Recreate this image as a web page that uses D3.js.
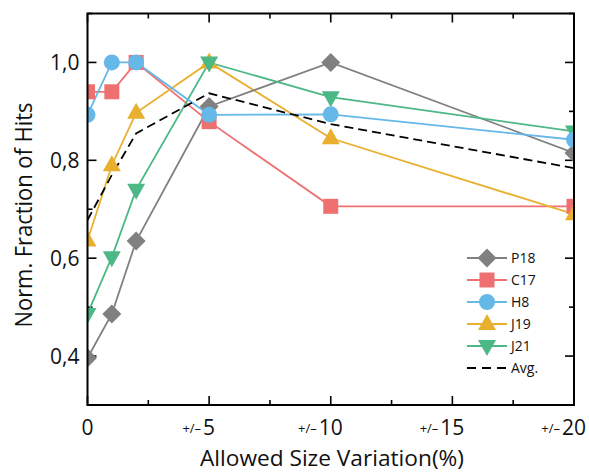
<!DOCTYPE html>
<html>
<head>
<meta charset="utf-8">
<script src="https://cdn.jsdelivr.net/npm/d3@7"></script>
<style>
  body { margin: 0; background: #fff; }
  text { font-family: "Open Sans", "Noto Sans", sans-serif; fill: #111; }
</style>
</head>
<body>
<svg id="chart" width="589" height="473"></svg>
<script>
// x positions (allowed size variation, %)
const xValues = [0, 1, 2, 5, 10, 20];

const seriesNames = ["P18", "C17", "H8", "J19", "J21"];
const p18 = [0.396, 0.486, 0.635, 0.91, 1.0, 0.815];
const c17 = [0.94, 0.94, 1.0, 0.879, 0.706, 0.706];
const h8 = [0.893, 1.0, 1.0, 0.893, 0.894, 0.842];
const j19 = [0.636, 0.79, 0.897, 1.0, 0.845, 0.69];
const j21 = [0.486, 0.602, 0.74, 1.0, 0.929, 0.859];
const avg = [0.678, 0.77, 0.855, 0.937, 0.874, 0.784];

const xTickValues = [0, 5, 10, 15, 20];
const xTickLabels = ["0", "5", "10", "15", "20"];
const yTickValues = [0.4, 0.6, 0.8, 1.0];

const colors = ["#808080", "#ef7070", "#66b8e8", "#e8b02e", "#4cb886"];
const symbols = ["diamond", "square", "circle", "triUp", "triDown"];

const svg = d3.select("#chart");
const margin = { left: 87.5, right: 15, top: 13.5, bottom: 68 };
const W = 589, H = 473;

const x = d3.scaleLinear().domain([0, 20]).range([margin.left, W - margin.right]);
const y = d3.scaleLinear().domain([0.3, 1.1]).range([H - margin.bottom, margin.top]);

// ticks: major + minor, inward on all four sides
function drawTicks() {
  let xMinor = d3.range(0, 20.01, 2.5);
  let yMinor = d3.range(0.3, 1.101, 0.1);
  let g = svg.append("g").attr("stroke", "#000").attr("stroke-width", 1.6);
  xMinor.forEach(function(v) {
    let len = (Math.abs(v % 5) < 0.01) ? 9 : 5;
    g.append("line").attr("x1", x(v)).attr("x2", x(v))
      .attr("y1", y.range()[0]).attr("y2", y.range()[0] - len);
    g.append("line").attr("x1", x(v)).attr("x2", x(v))
      .attr("y1", y.range()[1]).attr("y2", y.range()[1] + len);
  });
  yMinor.forEach(function(v) {
    let r = Math.round(v * 10);
    let len = (r % 2 === 0) ? 9 : 5;
    g.append("line").attr("y1", y(v)).attr("y2", y(v))
      .attr("x1", x.range()[0]).attr("x2", x.range()[0] + len);
    g.append("line").attr("y1", y(v)).attr("y2", y(v))
      .attr("x1", x.range()[1]).attr("x2", x.range()[1] - len);
  });
}
drawTicks();

// tick labels
yTickValues.forEach(function(v) {
  svg.append("text")
    .attr("x", margin.left - 8)
    .attr("y", y(v) + 8)
    .attr("text-anchor", "end")
    .style("font-size", "21px")
    .text(v.toFixed(1).replace(".", ","));
});

xTickValues.forEach(function(v, i) {
  let ty = y.range()[0] + 30;
  let num = svg.append("text")
    .attr("x", x(v))
    .attr("y", ty)
    .attr("text-anchor", "middle")
    .style("font-size", "21px")
    .text(xTickLabels[i]);
  if (v !== 0) {
    let w = num.node().getBBox().width;
    svg.append("text")
      .attr("x", x(v) - w / 2 - 2)
      .attr("y", ty - 2)
      .attr("text-anchor", "end")
      .style("font-size", "13px")
      .text("+/\u2013");
  }
});

// axis titles
svg.append("text")
  .attr("x", 332)
  .attr("y", 466)
  .attr("text-anchor", "middle")
  .attr("textLength", 264)
  .attr("lengthAdjust", "spacingAndGlyphs")
  .style("font-size", "22px")
  .text("Allowed Size Variation(%)");

svg.append("text")
  .attr("transform", "translate(32,215) rotate(-90)")
  .attr("text-anchor", "middle")
  .attr("textLength", 225)
  .attr("lengthAdjust", "spacingAndGlyphs")
  .style("font-size", "23px")
  .text("Norm. Fraction of Hits");

// marker drawing
function marker(g, kind, cx, cy, color) {
  if (kind === "circle") {
    g.append("circle").attr("cx", cx).attr("cy", cy).attr("r", 8).attr("fill", color);
  } else if (kind === "square") {
    g.append("rect").attr("x", cx - 7.5).attr("y", cy - 7.5).attr("width", 15).attr("height", 15).attr("fill", color);
  } else if (kind === "diamond") {
    g.append("path").attr("d", "M" + cx + "," + (cy - 9.5) + "L" + (cx + 9.5) + "," + cy + "L" + cx + "," + (cy + 9.5) + "L" + (cx - 9.5) + "," + cy + "Z").attr("fill", color);
  } else if (kind === "triUp") {
    g.append("path").attr("d", "M" + cx + "," + (cy - 10) + "L" + (cx + 9) + "," + (cy + 6) + "L" + (cx - 9) + "," + (cy + 6) + "Z").attr("fill", color);
  } else if (kind === "triDown") {
    g.append("path").attr("d", "M" + cx + "," + (cy + 10) + "L" + (cx + 9) + "," + (cy - 6) + "L" + (cx - 9) + "," + (cy - 6) + "Z").attr("fill", color);
  }
}

const allSeries = [p18, c17, h8, j19, j21];
const line = d3.line().x(function(d, i) { return x(xValues[i]); }).y(function(d) { return y(d); });

svg.append("clipPath").attr("id", "clip").append("rect")
  .attr("x", x.range()[0]).attr("y", y.range()[1])
  .attr("width", x.range()[1] - x.range()[0])
  .attr("height", y.range()[0] - y.range()[1]);

const dataG = svg.append("g").attr("clip-path", "url(#clip)");

// draw in order so later series sit on top
const drawOrder = [1, 3, 0, 4, 2];
drawOrder.forEach(function(k) {
  dataG.append("path").datum(allSeries[k]).attr("d", line)
    .attr("fill", "none").attr("stroke", colors[k]).attr("stroke-width", 1.8);
});
dataG.append("path").datum(avg).attr("d", line)
  .attr("fill", "none").attr("stroke", "#000").attr("stroke-width", 1.8)
  .attr("stroke-dasharray", "9,5");
drawOrder.forEach(function(k) {
  allSeries[k].forEach(function(v, i) {
    marker(dataG, symbols[k], x(xValues[i]), y(v), colors[k]);
  });
});

// frame
svg.append("rect")
  .attr("x", x.range()[0]).attr("y", y.range()[1])
  .attr("width", x.range()[1] - x.range()[0])
  .attr("height", y.range()[0] - y.range()[1])
  .attr("fill", "none").attr("stroke", "#000").attr("stroke-width", 2);

// legend
const legend = svg.append("g");
const legX1 = 467, legX2 = 507, legMid = 487, legTextX = 511;
const legY0 = 258, legStep = 22;
seriesNames.forEach(function(name, k) {
  let ly = legY0 + k * legStep;
  legend.append("line").attr("x1", legX1).attr("x2", legX2).attr("y1", ly).attr("y2", ly)
    .attr("stroke", colors[k]).attr("stroke-width", 1.8);
  marker(legend, symbols[k], legMid, ly, colors[k]);
  legend.append("text").attr("x", legTextX).attr("y", ly + 5)
    .style("font-size", "14px").text(name);
});
let avgY = legY0 + 5 * legStep;
legend.append("line").attr("x1", legX1).attr("x2", legX2).attr("y1", avgY).attr("y2", avgY)
  .attr("stroke", "#000").attr("stroke-width", 1.8).attr("stroke-dasharray", "9,6");
legend.append("text").attr("x", legTextX).attr("y", avgY + 5)
  .style("font-size", "14px").text("Avg.");
</script>
</body>
</html>
